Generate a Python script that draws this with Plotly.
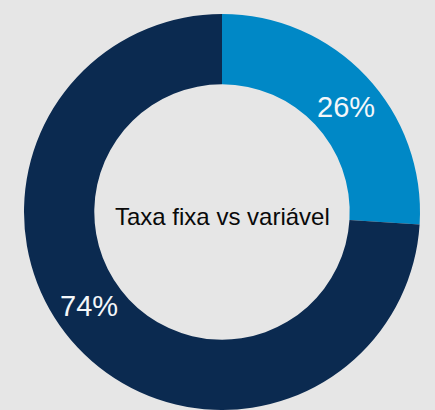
import math
import plotly.graph_objects as go

labels = ["Variável", "Fixa"]
values = [26, 74]
colors = ["#0088C6", "#0B2A50"]
center_text = "Taxa fixa vs variável"

HOLE = 0.645
LABEL_RADIUS = 0.82      # fraction of outer radius where % labels sit
LABEL_POS_IN_SLICE = 0.53  # angular position of label inside its slice

fig = go.Figure(go.Pie(
    labels=labels,
    values=values,
    hole=HOLE,
    sort=False,
    direction="clockwise",
    rotation=0,
    marker=dict(colors=colors, line=dict(width=0)),
    textinfo="none",
    showlegend=False,
    hoverinfo="label+percent",
    domain=dict(x=[0, 1], y=[0, 1]),
))

# percentage labels placed around the ring
total = sum(values)
cum = 0.0
for v in values:
    ang = (cum + LABEL_POS_IN_SLICE * v) / total * 2 * math.pi
    cum += v
    x = 0.5 + 0.5 * LABEL_RADIUS * math.sin(ang)
    y = 0.5 + 0.5 * LABEL_RADIUS * math.cos(ang)
    fig.add_annotation(
        text=f"{round(v / total * 100)}%", x=x, y=y, xref="paper", yref="paper",
        xanchor="center", yanchor="middle", showarrow=False,
        font=dict(family="Liberation Sans, Arial, sans-serif", size=29, color="#F4F7FA"),
    )

fig.add_annotation(
    text=center_text, x=0.5, y=0.5, xref="paper", yref="paper",
    showarrow=False, yshift=-4,
    font=dict(family="Liberation Sans, Arial, sans-serif", size=24, color="#0A0A0A"),
)

fig.update_layout(
    width=435, height=410,
    margin=dict(l=24, r=15, t=14, b=0),
    paper_bgcolor="#E6E6E6",
    plot_bgcolor="#E6E6E6",
)

fig.write_html(
    "out.html",
    config={"displayModeBar": False},
    post_script="document.body.style.margin='0';document.body.style.background='#E6E6E6';",
)
